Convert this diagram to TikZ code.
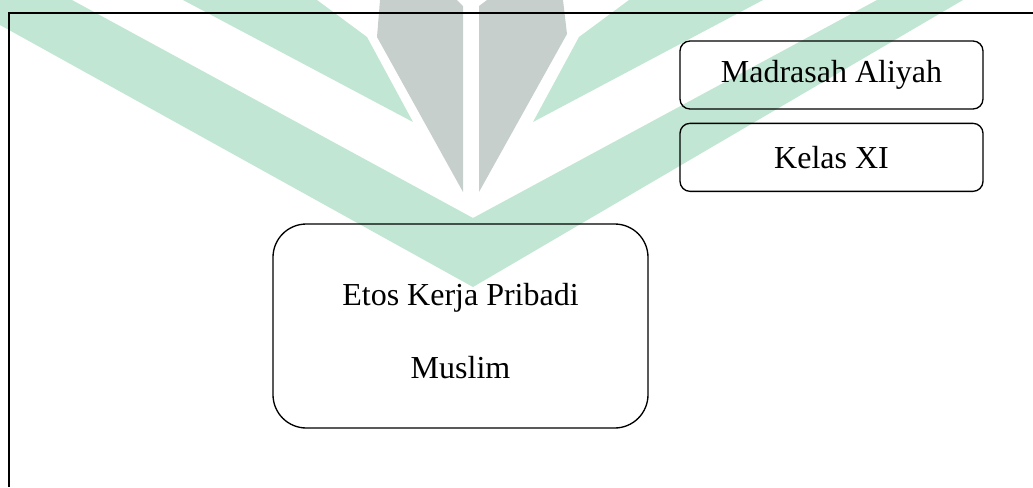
\documentclass[tikz,border=0pt]{standalone}
\usepackage{fontspec}
\setmainfont{Liberation Serif}
\usepackage{tikz}
\usetikzlibrary{positioning}
\definecolor{cLeaf}{HTML}{C1E6D3}
\definecolor{cBook}{HTML}{C6CFCC}
\definecolor{cLine}{HTML}{000000}
\tikzset{
  rbox/.style  ={draw=cLine,line width=1pt,rounded corners=7.5pt,align=center,
                 inner sep=0pt,minimum width=227.25pt,minimum height=51pt,
                 font=\fontsize{24}{29}\selectfont},
  bigbox/.style={rbox,rounded corners=25pt,minimum width=281.25pt,
                 minimum height=153pt,font=\fontsize{24}{54.75}\selectfont},
  frm/.style   ={draw=cLine,line width=0.8pt},
}

\begin{document}
\begin{tikzpicture}[x=0.75pt, y=-0.75pt]
\useasboundingbox (0,0) rectangle (1033,487);

% watermark, behind everything
\fill[cLeaf] (183,0) -- (317,0) -- (367,37) -- (413,122) -- cycle;
\fill[cLeaf] (763,0) -- (629,0) -- (579,37) -- (533,122) -- cycle;
\fill[cLeaf] (0,25) -- (0,0) -- (72,0) -- (473,218) -- (877,0) -- (963,0)
  -- (473,287) -- cycle;
\fill[cBook] (380,0) -- (377,37) -- (463,192) -- (463,6) -- (457,0) -- cycle;
\fill[cBook] (487,0) -- (479,6) -- (479,192) -- (567,34) -- (563,0) -- cycle;

% open frame: top and left only
\draw[frm] (1033,13) -- (9,13) -- (9,487);

\node[rbox] (madrasah) at (831.5,75) {Madrasah Aliyah};
\node[rbox,below=9.75pt of madrasah] (kelas) {Kelas XI};
\node[draw=none,align=center,font=\fontsize{24}{54.75}\selectfont]
  (etostxt) at (460.5,331) {Etos Kerja Pribadi\\Muslim};
\node[bigbox] (etos) at (460.5,326) {};
\end{tikzpicture}
\end{document}
